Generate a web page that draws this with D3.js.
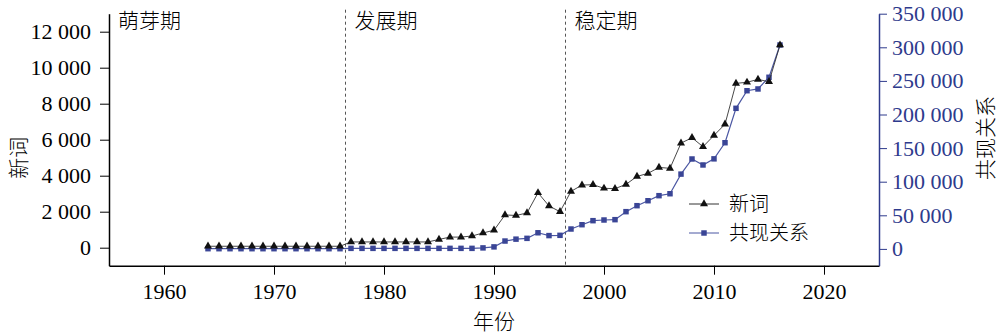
<!DOCTYPE html>
<html>
<head>
<meta charset="utf-8">
<script src="https://cdn.jsdelivr.net/npm/d3@7"></script>
<style>
  html, body { margin: 0; padding: 0; background: #fff; }
  svg { display: block; }
  .num { font-family: "Liberation Serif", "Times New Roman", serif; font-size: 22px; }
  .cjk { font-family: "Noto Sans CJK SC", sans-serif; font-size: 21px; font-weight: 300; }
  .leg { font-family: "Noto Sans CJK SC", sans-serif; font-size: 20px; font-weight: 300; }
</style>
</head>
<body>
<svg id="chart" width="1000" height="334"></svg>
<script>
// 年份
const years = d3.range(1964, 2017);

// 新词数量（左轴）
const newWords = [
  80, 80, 80, 80, 80, 80, 80, 80, 80, 80, 80, 80, 80,          // 1964–1976
  320, 320, 320, 320, 320, 320, 320, 320,                      // 1977–1984
  460, 590, 590, 650, 820, 970,                                // 1985–1990
  1820, 1790, 1930, 3050, 2320, 2000,                          // 1991–1996
  3130, 3480, 3500, 3300, 3280, 3520, 3960, 4130, 4460, 4410,  // 1997–2006
  5810, 6110, 5610, 6240, 6860, 9130, 9190, 9350, 9220, 11260  // 2007–2016
];

// 共现关系数量（右轴）
const cooccur = [
  300, 300, 300, 300, 300, 300, 300, 300, 300, 300, 300, 300, 300,
  800, 800, 800, 800, 800, 800, 800, 800,
  800, 800, 800, 800, 1500, 3000,
  11700, 14500, 15700, 24000, 19800, 20200,
  29600, 36000, 42000, 43000, 43500, 55400, 64300, 71700, 79200, 82100,
  111300, 133800, 124900, 134000, 158000, 209200, 235400, 238000, 255400, 303400
];

// 分期
const periodNames = ["萌芽期", "发展期", "稳定期"];
const periodStarts = [1955, 1976.5, 1996.5];

const xTicks = [1960, 1970, 1980, 1990, 2000, 2010, 2020];
const leftTicks = [0, 2000, 4000, 6000, 8000, 10000, 12000];
const rightTicks = [0, 50000, 100000, 150000, 200000, 250000, 300000, 350000];

const svg = d3.select("#chart");
const W = 1000, H = 334;
svg.append("rect").attr("width", W).attr("height", H).attr("fill", "#fff");

const blue = "#2e3a8c";
const x = d3.scaleLinear().domain([1955, 2025]).range([109, 879]);
const yL = d3.scaleLinear().domain([-1000, 13000]).range([265.7, 13.7]);
const yR = d3.scaleLinear().domain([-25000, 350000]).range([265.7, 13.7]);

const fmt = v => d3.format(",")(v).replace(/,/g, " ");

function styleAxis(g, color) {
  g.selectAll("path").attr("stroke", color).attr("stroke-width", 1.5);
  g.selectAll("line").attr("stroke", color).attr("stroke-width", 1);
  g.selectAll("text").attr("class", "num").attr("fill", color)
    .attr("font-size", null).attr("font-family", null);
}

// x 轴
const gx = svg.append("g").attr("transform", `translate(0,${yL.range()[0]})`);
gx.call(d3.axisBottom(x).tickValues(d3.range(1955, 2026, 5)).tickSize(5).tickFormat(""));
gx.call(d3.axisBottom(x).tickValues(xTicks).tickSize(9).tickSizeOuter(0).tickPadding(9).tickFormat(d3.format("d")));
styleAxis(gx, "#000");

// 左轴
const gl = svg.append("g").attr("transform", `translate(${x.range()[0]},0)`);
gl.call(d3.axisLeft(yL).tickValues(d3.range(-1000, 13001, 1000)).tickSize(5).tickSizeOuter(0).tickFormat(""));
gl.call(d3.axisLeft(yL).tickValues(leftTicks).tickSize(9).tickSizeOuter(0).tickPadding(9).tickFormat(fmt));
styleAxis(gl, "#000");

// 右轴
const gr = svg.append("g").attr("transform", `translate(${x.range()[1]},0)`);
gr.call(d3.axisRight(yR).tickValues(d3.range(-25000, 350001, 25000)).tickSize(5).tickSizeOuter(0).tickFormat(""));
gr.call(d3.axisRight(yR).tickValues(rightTicks).tickSize(8).tickSizeOuter(0).tickPadding(5).tickFormat(fmt));
styleAxis(gr, blue);

// 分期虚线与标注
periodStarts.forEach((p, i) => {
  if (i > 0) {
    svg.append("line")
      .attr("x1", x(p)).attr("x2", x(p))
      .attr("y1", yL.range()[1] - 4).attr("y2", yL.range()[0])
      .attr("stroke", "#555").attr("stroke-width", 1)
      .attr("stroke-dasharray", "3,3");
  }
  svg.append("text").attr("class", "cjk")
    .attr("x", x(p) + 9).attr("y", 28)
    .attr("fill", "#000")
    .text(periodNames[i]);
});

// 共现关系折线
const lineR = d3.line().x((d, i) => x(years[i])).y(d => yR(d));
svg.append("path").datum(cooccur)
  .attr("d", lineR).attr("fill", "none")
  .attr("stroke", "#4b57a3").attr("stroke-width", 1.2);
svg.append("g").selectAll("path").data(cooccur).join("path")
  .attr("transform", (d, i) => `translate(${x(years[i])},${yR(d)})`)
  .attr("d", d3.symbol(d3.symbolSquare, 30))
  .attr("fill", "#3a4596");

// 新词折线
const lineL = d3.line().x((d, i) => x(years[i])).y(d => yL(d));
svg.append("path").datum(newWords)
  .attr("d", lineL).attr("fill", "none")
  .attr("stroke", "#333").attr("stroke-width", 0.9);
svg.append("g").selectAll("path").data(newWords).join("path")
  .attr("transform", (d, i) => `translate(${x(years[i])},${yL(d)})`)
  .attr("d", d3.symbol(d3.symbolTriangle, 28))
  .attr("fill", "#111");

// 图例
const legend = svg.append("g").attr("transform", "translate(689,0)");
const items = [
  { name: "新词", stroke: "#333", fill: "#111", sym: d3.symbolTriangle, size: 28, y: 204 },
  { name: "共现关系", stroke: "#4b57a3", fill: "#3a4596", sym: d3.symbolSquare, size: 30, y: 233 }
];
items.forEach(it => {
  legend.append("line").attr("x1", 0).attr("x2", 30).attr("y1", it.y).attr("y2", it.y)
    .attr("stroke", it.stroke).attr("stroke-width", 1);
  legend.append("path").attr("transform", `translate(15,${it.y})`)
    .attr("d", d3.symbol(it.sym, it.size)).attr("fill", it.fill);
  legend.append("text").attr("class", "leg").attr("x", 40).attr("y", it.y + 7)
    .attr("fill", "#000").text(it.name);
});

// 轴标题
svg.append("text").attr("class", "cjk")
  .attr("transform", `translate(26,${yL(5000)}) rotate(-90)`)
  .attr("text-anchor", "middle").attr("fill", "#000").text("新词");
svg.append("text").attr("class", "cjk")
  .attr("transform", `translate(993,${yR(150000) - 10}) rotate(-90)`)
  .attr("text-anchor", "middle").attr("fill", "#000").text("共现关系");
svg.append("text").attr("class", "cjk")
  .attr("x", (x.range()[0] + x.range()[1]) / 2).attr("y", 329)
  .attr("text-anchor", "middle").attr("fill", "#000").text("年份");
</script>
</body>
</html>
